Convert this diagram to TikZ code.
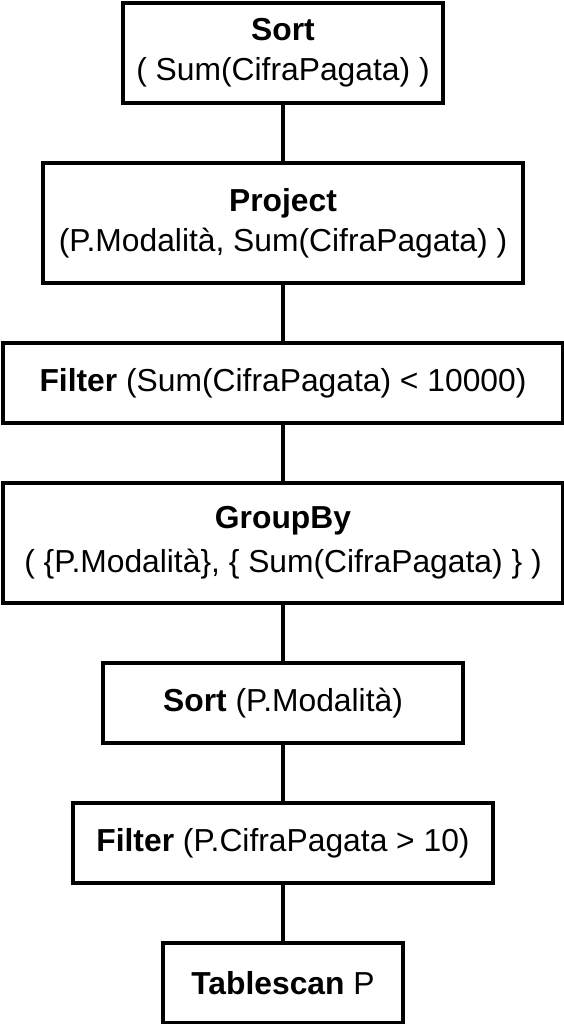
\documentclass[tikz,border=0pt]{standalone}
\usepackage{fontspec}
\setmainfont{Liberation Sans}
\usepackage{tikz}

\tikzset{
  op/.style={draw, line width=4pt, inner sep=0pt, align=center,
    font=\fontsize{31.8}{40}\selectfont},
  link/.style={line width=4pt}
}

\begin{document}
\begin{tikzpicture}[x=1pt, y=-1pt]

    \useasboundingbox (0, 0) rectangle (564, 1024);

    \node[op, minimum width=320, minimum height=100] (sorttop) at (283, 53)
      {\textbf{Sort}\\( Sum(CifraPagata) )};
    \node[op, minimum width=480, minimum height=120] (project) at (283, 223)
      {\textbf{Project}\\(P.Modalità, Sum(CifraPagata) )};
    \node[op, minimum width=560, minimum height=80] (filtersum) at (283, 383)
      {\textbf{Filter} (Sum(CifraPagata) < 10000)};
    \node[op, minimum width=560, minimum height=120,
      font=\fontsize{31.8}{44}\selectfont] (groupby) at (283, 543)
      {\textbf{GroupBy}\\( \{P.Modalità\}, \{ Sum(CifraPagata) \} )};
    \node[op, minimum width=360, minimum height=80] (sortmod) at (283, 703)
      {\textbf{Sort} (P.Modalità)};
    \node[op, minimum width=420, minimum height=80] (filtercifra) at (283, 843)
      {\textbf{Filter} (P.CifraPagata > 10)};
    \node[op, minimum width=240, minimum height=80] (scan) at (283, 983)
      {\textbf{Tablescan} P};

    \draw [link] (sorttop) to (project);
    \draw [link] (project) to (filtersum);
    \draw [link] (filtersum) to (groupby);
    \draw [link] (groupby) to (sortmod);
    \draw [link] (sortmod) to (filtercifra);
    \draw [link] (filtercifra) to (scan);

  \end{tikzpicture}
\end{document}
